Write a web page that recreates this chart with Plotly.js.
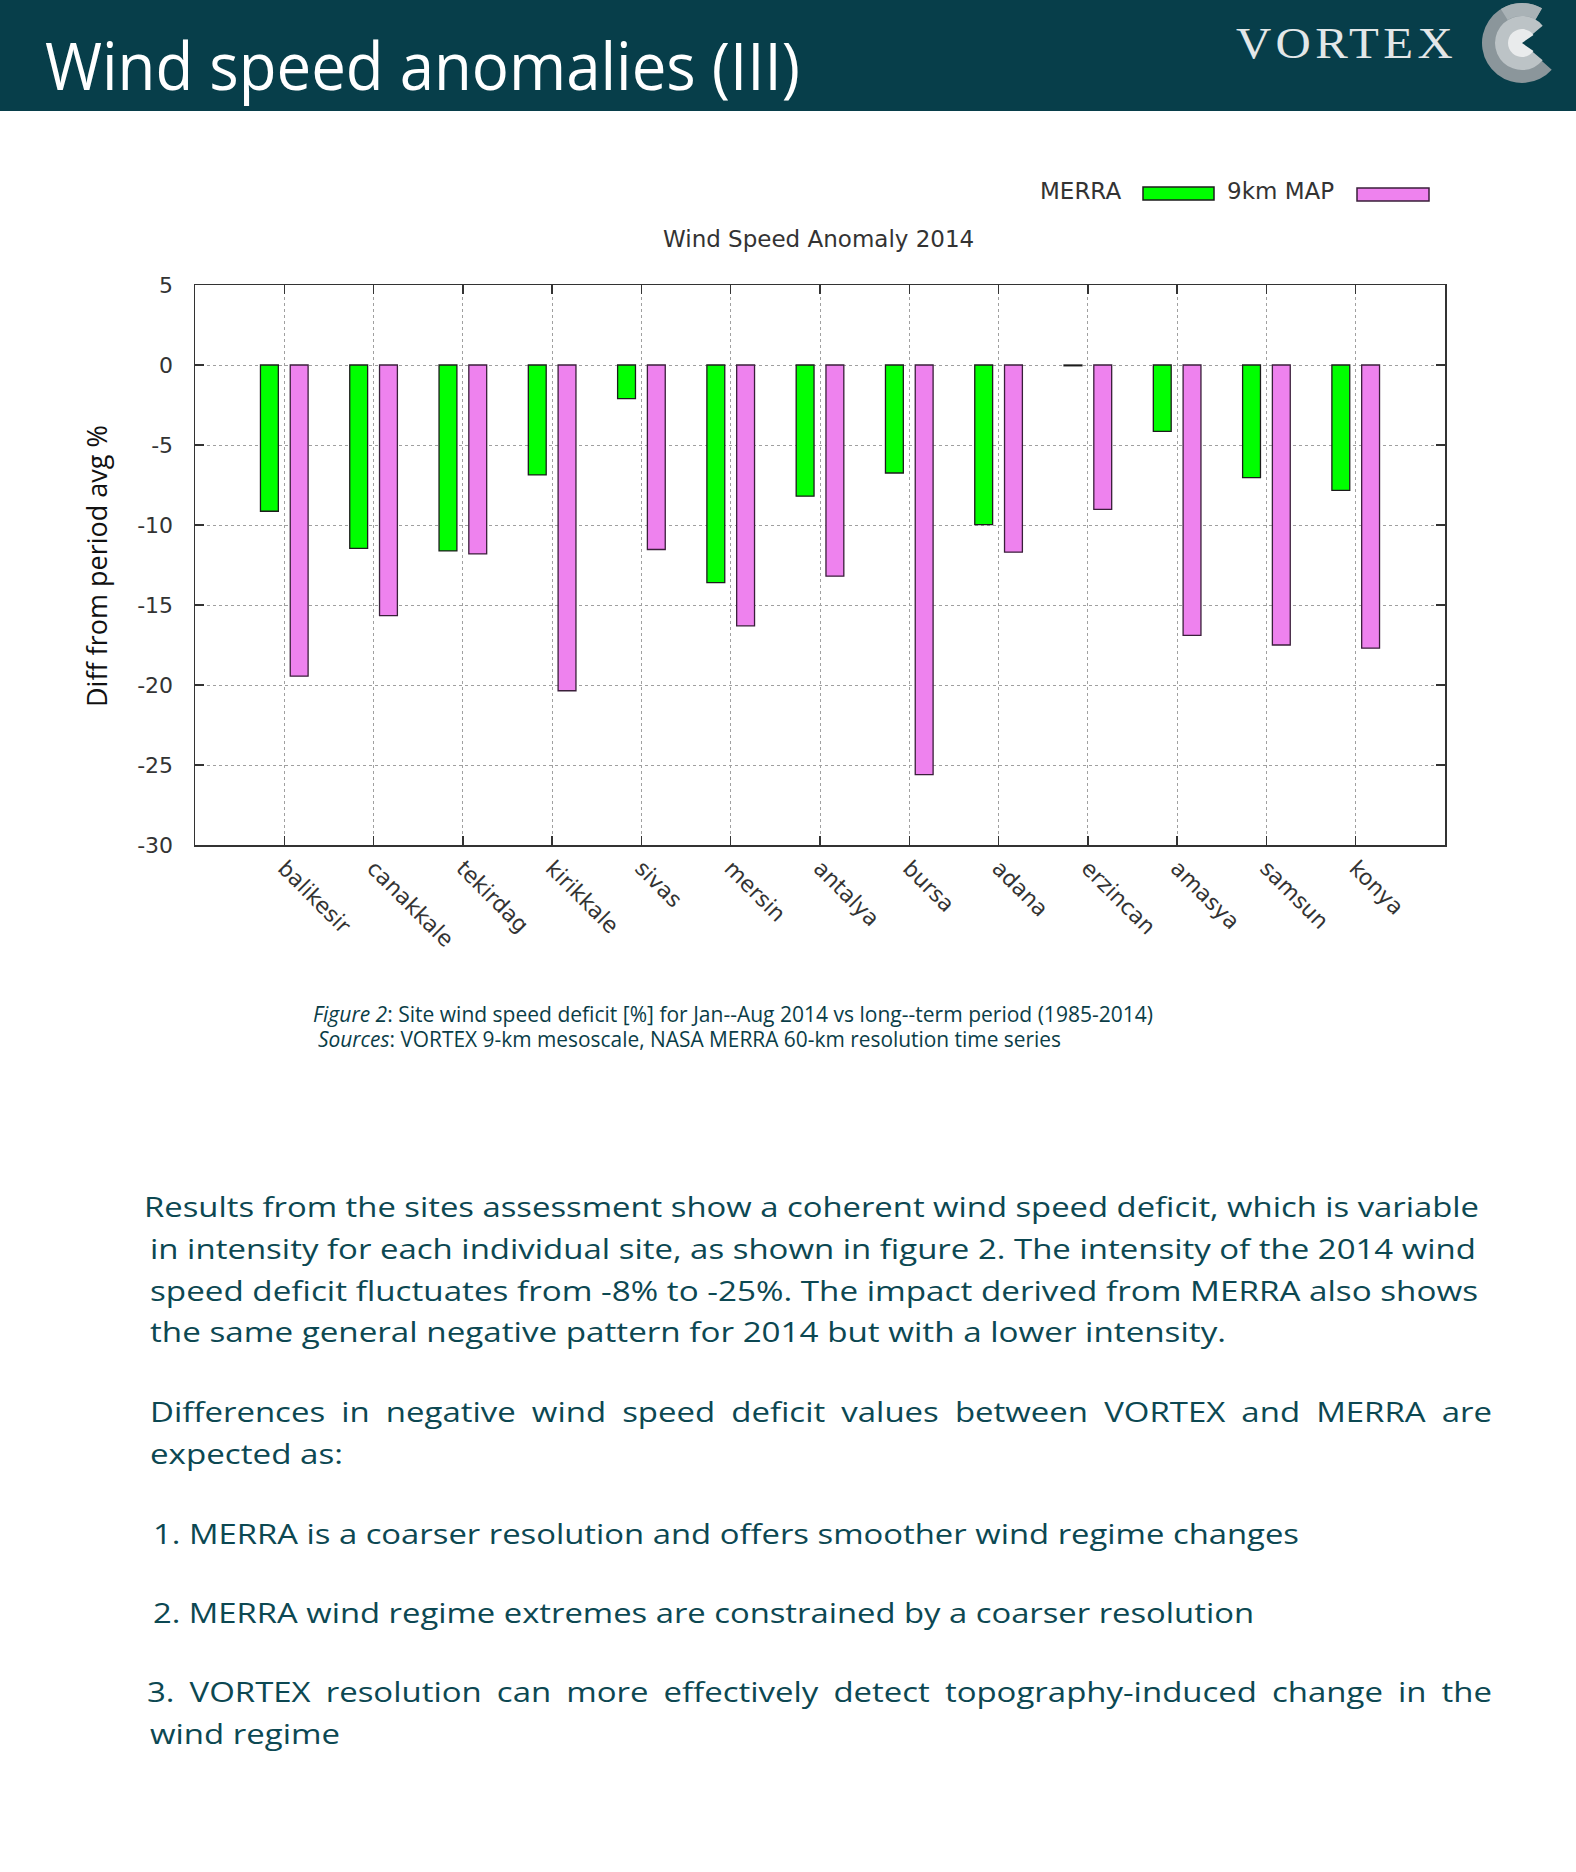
<!DOCTYPE html>
<html>
<head>
<meta charset="utf-8">
<script src="https://cdn.plot.ly/plotly-3.0.1.min.js"></script>
<style>
html,body{margin:0;padding:0;background:#fff;}
#page{position:relative;width:1576px;height:1872px;overflow:hidden;background:#fff;}
#header{position:absolute;left:0;top:0;width:1576px;height:111px;background:#073e4a;z-index:0;}
#chart{position:absolute;left:0;top:0;width:1576px;height:1872px;z-index:1;}
.t{position:absolute;white-space:nowrap;transform-origin:0 50%;z-index:2;}
.body{font-family:"Open Sans",sans-serif;color:#0c4852;font-size:28px;line-height:40px;height:40px;}
.just{text-align:justify;text-align-last:justify;white-space:normal;overflow:hidden;}
.cap{font-family:"Open Sans",sans-serif;color:#0a3d47;font-size:21px;line-height:26px;height:26px;}
</style>
</head>
<body>
<div id="page">
  <div id="header"></div>
  <div id="chart"></div>
  <div class="t fit" data-w="755" style="left:45px;top:31px;font-family:'Open Sans',sans-serif;font-size:66px;line-height:66px;color:#ffffff;">Wind speed anomalies (III)</div>
  <div class="t fit" data-w="221" style="left:1236px;top:21px;font-family:'Liberation Serif',serif;font-size:45px;line-height:45px;color:#e3e7e8;letter-spacing:4px;">VORTEX</div>
  <svg id="logo" style="position:absolute;left:1470px;top:0;width:106px;height:111px;z-index:2;" viewBox="0 0 106 111"></svg>

  <div class="t cap fit" data-w="840" style="left:313px;top:1001px;"><i>Figure 2</i>: Site wind speed deficit [%] for Jan--Aug 2014 vs long--term period (1985-2014)</div>
  <div class="t cap fit" data-w="743" style="left:318px;top:1026px;"><i>Sources</i>: VORTEX 9-km mesoscale, NASA MERRA 60-km resolution time series</div>

  <div class="t body fit bfit" data-w="1335" style="left:144px;top:1186px;">Results from the sites assessment show a coherent wind speed deficit, which is variable</div>
  <div class="t body fit bfit" data-w="1326" style="left:150px;top:1228px;">in intensity for each individual site, as shown in figure 2. The intensity of the 2014 wind</div>
  <div class="t body fit bfit" data-w="1328" style="left:150px;top:1270px;">speed deficit fluctuates from -8% to -25%. The impact derived from MERRA also shows</div>
  <div class="t body fit bfit" data-w="1076" style="left:150px;top:1311px;">the same general negative pattern for 2014 but with a lower intensity.</div>

  <div class="t body just" data-w="1342" style="left:150px;top:1391px;">Differences in negative wind speed deficit values between VORTEX and MERRA are</div>
  <div class="t body fit" data-w="193" style="left:150px;top:1433px;">expected as:</div>

  <div class="t body fit bfit" data-w="1146" style="left:153px;top:1513px;">1. MERRA is a coarser resolution and offers smoother wind regime changes</div>
  <div class="t body fit bfit" data-w="1101" style="left:153px;top:1592px;">2. MERRA wind regime extremes are constrained by a coarser resolution</div>
  <div class="t body just" data-w="1345" style="left:147px;top:1671px;">3. VORTEX resolution can more effectively detect topography-induced change in the</div>
  <div class="t body fit" data-w="190" style="left:150px;top:1713px;">wind regime</div>
</div>

<script>
// ---- data ----
const sites = ['balikesir','canakkale','tekirdag','kirikkale','sivas','mersin','antalya','bursa','adana','erzincan','amasya','samsun','konya'];
const merra = [-9.14,-11.46,-11.62,-6.87,-2.1,-13.6,-8.2,-6.75,-9.98,-0.05,-4.15,-7.04,-7.83];
const map9km = [-19.45,-15.66,-11.81,-20.36,-11.53,-16.3,-13.2,-25.6,-11.7,-9.02,-16.9,-17.5,-17.7];
const yTicks = [5,0,-5,-10,-15,-20,-25,-30];
const seriesNames = ['MERRA','9km MAP'];
const seriesColors = ['#00ff00','#ee82ee'];

// ---- geometry helpers (page pixels -> paper coords) ----
const W = 1576, H = 1872;
const PL = 195, PR = 1445, PT = 285, PB = 845;
const px = x => (x - PL) / (PR - PL);
const py = y => (PB - y) / (PB - PT);

const tickFont = {family:'DejaVu Sans, sans-serif', size:22, color:'#333'};

const traces = [
  {type:'bar', name:seriesNames[0], x:sites, y:merra,
   marker:{color:seriesColors[0], line:{color:'#1c1c1c', width:1.3}}, showlegend:false, hoverinfo:'x+y'},
  {type:'bar', name:seriesNames[1], x:sites, y:map9km,
   marker:{color:seriesColors[1], line:{color:'#3a1f3a', width:1.3}}, showlegend:false, hoverinfo:'x+y'}
];

const annotations = [
  {text:'Wind Speed Anomaly 2014', xref:'paper', yref:'paper', x:px(818), y:py(239),
   xanchor:'center', yanchor:'middle', showarrow:false,
   font:{family:'DejaVu Sans, sans-serif', size:23, color:'#333'}},
  {text:'Diff from period avg %', xref:'paper', yref:'paper', x:px(96), y:py(566), textangle:-90,
   xanchor:'center', yanchor:'middle', showarrow:false,
   font:{family:'Open Sans, sans-serif', size:27, color:'#111'}},
  {text:seriesNames[0], xref:'paper', yref:'paper', x:px(1123), y:py(191),
   xanchor:'right', yanchor:'middle', showarrow:false,
   font:{family:'DejaVu Sans, sans-serif', size:23, color:'#333'}},
  {text:seriesNames[1], xref:'paper', yref:'paper', x:px(1336), y:py(191),
   xanchor:'right', yanchor:'middle', showarrow:false,
   font:{family:'DejaVu Sans, sans-serif', size:23, color:'#333'}}
];

const shapes = [
  {type:'rect', xref:'paper', yref:'paper', x0:px(1143), x1:px(1214), y0:py(200), y1:py(187),
   fillcolor:seriesColors[0], line:{color:'#1c1c1c', width:1.5}},
  {type:'rect', xref:'paper', yref:'paper', x0:px(1357), x1:px(1429), y0:py(201), y1:py(188),
   fillcolor:seriesColors[1], line:{color:'#3a1f3a', width:1.5}}
];

const layout = {
  width:W, height:H,
  margin:{l:PL, r:W-PR, t:PT, b:H-PB, pad:0},
  paper_bgcolor:'rgba(0,0,0,0)', plot_bgcolor:'#ffffff',
  barmode:'group', bargap:0.333, bargroupgap:0.4,
  showlegend:false,
  xaxis:{type:'category', range:[-1,13], automargin:false,
    showgrid:true, gridcolor:'#a0a0a0', griddash:'dot', gridwidth:1,
    showline:true, linecolor:'#333', linewidth:1.5, mirror:'ticks',
    ticks:'inside', ticklen:9, tickcolor:'#333', tickwidth:1.3,
    tickangle:45, tickfont:tickFont, ticklabelstandoff:0, zeroline:false},
  yaxis:{range:[-30,5], automargin:false, tickvals:yTicks, ticktext:yTicks.map(String),
    showgrid:true, gridcolor:'#a0a0a0', griddash:'dot', gridwidth:1,
    showline:true, linecolor:'#333', linewidth:1.5, mirror:'ticks',
    ticks:'inside', ticklen:9, tickcolor:'#333', tickwidth:1.3,
    tickfont:tickFont, ticklabelstandoff:16, zeroline:false},
  annotations:annotations, shapes:shapes,
  font:{family:'DejaVu Sans, sans-serif', color:'#333'}
};

Plotly.newPlot('chart', traces, layout, {staticPlot:true, displayModeBar:false});

// ---- logo ----
(function(){
  const svg = document.getElementById('logo');
  const cx = 52, cy = 43;
  function pt(r,a){const t=a*Math.PI/180;return [(cx+r*Math.cos(t)).toFixed(2),(cy+r*Math.sin(t)).toFixed(2)];}
  function ring(r1,r2,a0,a1,fill){
    const large = (a1-a0)>180?1:0;
    const o0=pt(r2,a0),o1=pt(r2,a1),i1=pt(r1,a1),i0=pt(r1,a0);
    let d;
    if(r1<=0){d=`M${cx},${cy} L${o0} A${r2},${r2} 0 ${large} 1 ${o1} Z`;}
    else{d=`M${o0} A${r2},${r2} 0 ${large} 1 ${o1} L${i1} A${r1},${r1} 0 ${large} 0 ${i0} Z`;}
    const p=document.createElementNS('http://www.w3.org/2000/svg','path');
    p.setAttribute('d',d);p.setAttribute('fill',fill);svg.appendChild(p);
  }
  ring(26,40,42,300,'#8b969b');
  ring(27,40,238,300,'#a9b2b6');
  ring(13,27,40,320,'#bcc3c6');
  ring(0,14,35,325,'#e9ebec');
})();

// ---- fit text widths ----
function fitAll(){
  let sum=0,n=0;
  document.querySelectorAll('.fit').forEach(el=>{
    el.style.transform='none';
    const target=+el.dataset.w;
    const nat=el.getBoundingClientRect().width;
    if(nat>0){
      const s=target/nat;
      el.style.transform='scaleX('+s+')';
      if(el.classList.contains('bfit')){sum+=s;n++;}
    }
  });
  const s = n? sum/n : 1;
  document.querySelectorAll('.just').forEach(el=>{
    const target=+el.dataset.w;
    el.style.width=(target/s)+'px';
    el.style.transform='scaleX('+s+')';
  });
}
if(document.fonts && document.fonts.ready){document.fonts.ready.then(fitAll);} else fitAll();
fitAll();
</script>
</body>
</html>
